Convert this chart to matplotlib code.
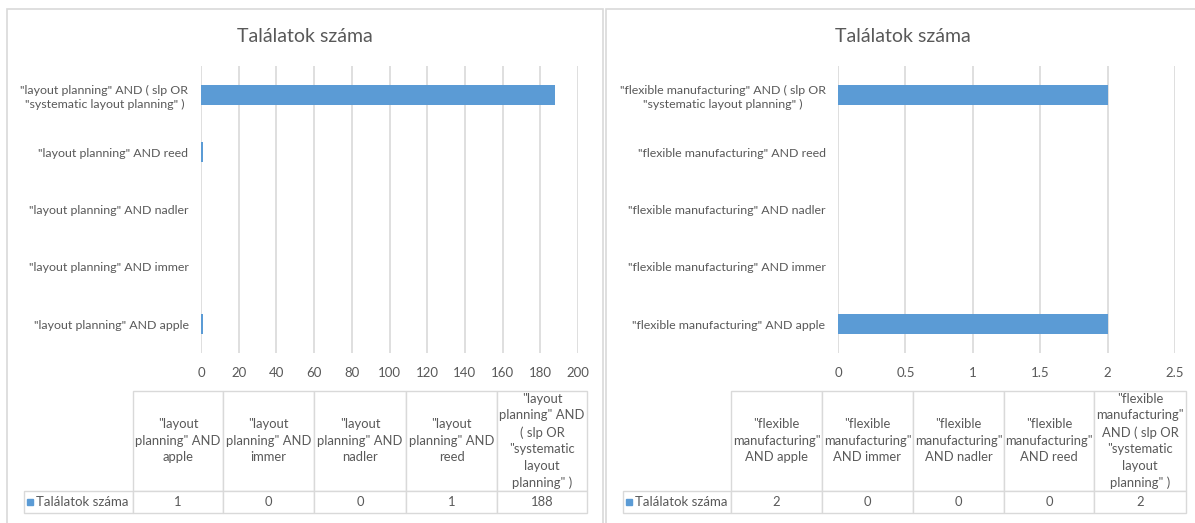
import matplotlib
matplotlib.use('Agg')
import matplotlib.pyplot as plt
import numpy as np
from matplotlib.patches import Rectangle

plt.rcParams['font.family'] = ['Lato', 'DejaVu Sans']

W, H = 1195, 523
TITLE = 'Találatok száma'
SERIES = 'Találatok száma'
BLUE = '#5b9bd5'
GREY = '#595959'
LINE = '#d9d9d9'

# left chart
lp_cats = ['"layout planning" AND apple', '"layout planning" AND immer',
           '"layout planning" AND nadler', '"layout planning" AND reed',
           '"layout planning" AND ( slp OR\n"systematic layout planning" )']
lp_heads = ['"layout\nplanning" AND\napple', '"layout\nplanning" AND\nimmer',
            '"layout\nplanning" AND\nnadler', '"layout\nplanning" AND\nreed',
            '"layout\nplanning" AND\n( slp OR\n"systematic\nlayout\nplanning" )']
lp_vals = [1, 0, 0, 1, 188]
lp_ticks = [0, 20, 40, 60, 80, 100, 120, 140, 160, 180, 200]

# right chart
fm_cats = ['"flexible manufacturing" AND apple', '"flexible manufacturing" AND immer',
           '"flexible manufacturing" AND nadler', '"flexible manufacturing" AND reed',
           '"flexible manufacturing" AND ( slp OR\n"systematic layout planning" )']
fm_heads = ['"flexible\nmanufacturing"\nAND apple', '"flexible\nmanufacturing"\nAND immer',
            '"flexible\nmanufacturing"\nAND nadler', '"flexible\nmanufacturing"\nAND reed',
            '"flexible\nmanufacturing"\nAND ( slp OR\n"systematic\nlayout\nplanning" )']
fm_vals = [2, 0, 0, 0, 2]
fm_ticks = [0, 0.5, 1, 1.5, 2, 2.5]


def rect(x0, y0, x1, y1):
    # pixel box (top-left origin) -> figure fraction rect
    return [x0 / W, 1 - y1 / H, (x1 - x0) / W, (y1 - y0) / H]


def bar_chart(fig, box, cats, vals, ticks):
    ax = fig.add_axes(rect(*box))
    y = np.arange(len(cats))
    ax.barh(y, vals, height=0.35, color=BLUE, zorder=3)
    ax.set_ylim(-0.5, len(cats) - 0.5)
    ax.set_xlim(ticks[0], ticks[-1])
    ax.set_xticks(ticks)
    ax.set_xticklabels(['%g' % t for t in ticks])
    ax.set_yticks(y)
    ax.set_yticklabels(cats, multialignment='center', linespacing=1.35)
    ax.grid(axis='x', color=LINE, linewidth=1.2, zorder=0)
    for s in ax.spines.values():
        s.set_visible(False)
    ax.tick_params(axis='both', length=0, labelsize=9.5, labelcolor=GREY)
    ax.tick_params(axis='y', labelsize=8.9, pad=9)
    ax.tick_params(axis='x', pad=10)
    return ax


def data_table(fig, box, heads, vals, widths):
    tax = fig.add_axes(rect(*box))
    tax.axis('off')
    cells = [[''] + heads, [SERIES] + [str(v) for v in vals]]
    tab = tax.table(cellText=cells, colWidths=[w / sum(widths) for w in widths],
                    cellLoc='center', bbox=[0, 0, 1, 1])
    tab.auto_set_font_size(False)
    tab.set_fontsize(9.4)
    for (r, c), cell in tab.get_celld().items():
        cell.set_edgecolor(LINE)
        cell.set_linewidth(1.0)
        cell.set_height(100 if r == 0 else 22)
        cell.get_text().set_color(GREY)
        cell.get_text().set_linespacing(1.45)
    tab[(0, 0)].visible_edges = ''
    tab[(1, 0)].get_text().set_horizontalalignment('left')
    tab[(1, 0)].get_text().set_fontsize(9.5)
    tab[(1, 0)].PAD = 0.11
    # legend key in the row label cell
    tax.plot([6 / (box[2] - box[0])], [11 / (box[3] - box[1])], 's',
             color=BLUE, markersize=5, transform=tax.transAxes, clip_on=False)
    return tax


fig = plt.figure(figsize=(W / 100, H / 100), dpi=100)

# chart frames
for x0, x1 in [(7, 603), (606, 1200)]:
    fig.patches.append(Rectangle((x0 / W, -0.1), (x1 - x0) / W, 1 - 9 / H + 0.1,
                                 transform=fig.transFigure, fill=False,
                                 edgecolor=LINE, linewidth=1.2))

fig.text(305 / W, 1 - 37 / H, TITLE, ha='center', va='center', fontsize=14, color=GREY)
fig.text(903 / W, 1 - 37 / H, TITLE, ha='center', va='center', fontsize=14, color=GREY)

bar_chart(fig, (201, 66, 578, 353), lp_cats, lp_vals, lp_ticks)
bar_chart(fig, (838, 66, 1175, 353), fm_cats, fm_vals, fm_ticks)

data_table(fig, (24, 391, 587, 513), lp_heads, lp_vals, [109, 90, 91, 92, 91, 90])
data_table(fig, (623, 391, 1186, 513), fm_heads, fm_vals, [108, 91, 91, 91, 90, 92])

fig.savefig('out.png', dpi=100)
